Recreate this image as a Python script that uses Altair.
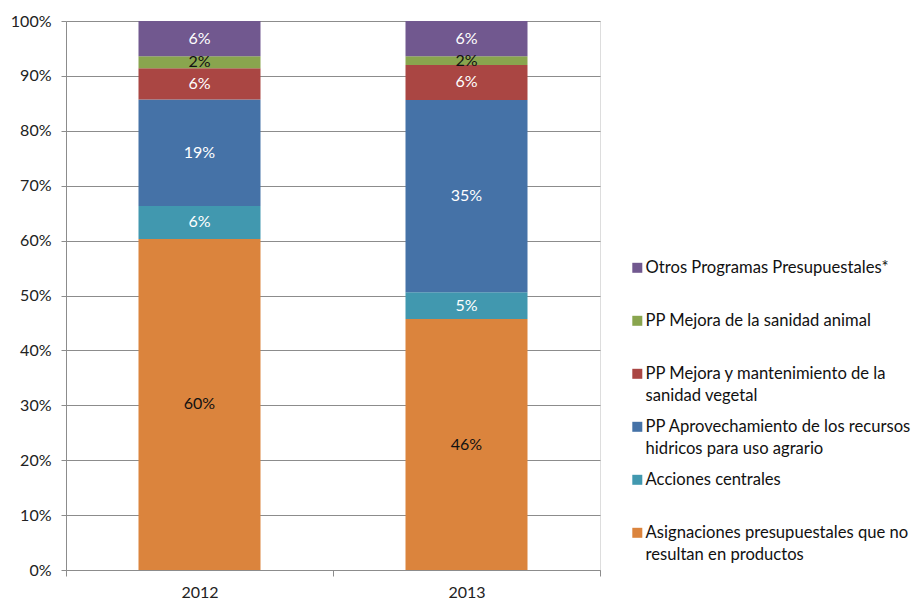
import altair as alt
import pandas as pd

years = ["2012", "2013"]
categories = [
    "Asignaciones presupuestales que no resultan en productos",
    "Acciones centrales",
    "PP Aprovechamiento de los recursos hidricos para uso agrario",
    "PP Mejora y mantenimiento de la sanidad vegetal",
    "PP Mejora de la sanidad animal",
    "Otros Programas Presupuestales*",
]
legend_lines = [
    ["Asignaciones presupuestales que no", "resultan en productos"],
    ["Acciones centrales"],
    ["PP Aprovechamiento de los recursos", "hidricos para uso agrario"],
    ["PP Mejora y mantenimiento de la", "sanidad vegetal"],
    ["PP Mejora de la sanidad animal"],
    ["Otros Programas Presupuestales*"],
]
values_2012 = [60.3, 6.0, 19.4, 5.7, 2.2, 6.4]
values_2013 = [45.7, 4.9, 35.0, 6.4, 1.6, 6.4]
colors = ["#DB843D", "#4198AF", "#4572A7", "#AA4643", "#89A54E", "#71588F"]
label_colors = ["#111111", "white", "white", "white", "#111111", "white"]

rows = []
for year, vals in zip(years, [values_2012, values_2013]):
    for i, (cat, v) in enumerate(zip(categories, vals)):
        rows.append({"year": year, "category": cat, "value": v / 100.0,
                     "idx": i, "tcolor": label_colors[i]})
df = pd.DataFrame(rows)

# legend label expression with line breaks
expr = "datum.label"
for cat, lines in zip(categories, legend_lines):
    if len(lines) > 1:
        arr = "[" + ", ".join("'" + l + "'" for l in lines) + "]"
        expr = f"datum.label == '{cat}' ? {arr} : ({expr})"

FONT = "Lato"
GRID = "#8C8C8C"
TXT = "#222222"

base = alt.Chart(df).transform_stack(
    stack="value", groupby=["year"], as_=["y0", "y1"],
    sort=[alt.SortField("idx", order="ascending")],
).transform_calculate(mid="(datum.y0 + datum.y1) / 2")

x_enc = alt.X(
    "year:N",
    scale=alt.Scale(paddingInner=0, paddingOuter=0),
    axis=alt.Axis(title=None, labelAngle=0, tickBand="extent", grid=False,
                  domainColor=GRID, tickColor=GRID, tickSize=6,
                  labelFont=FONT, labelFontSize=16, labelColor=TXT,
                  labelPadding=8),
)

bars = base.mark_bar(width=122).encode(
    x=x_enc,
    y=alt.Y("y0:Q", scale=alt.Scale(domain=[0, 1], nice=False),
            axis=alt.Axis(title=None, format=".0%",
                          values=[i / 10 for i in range(11)],
                          gridColor=GRID, domainColor=GRID, tickColor=GRID,
                          tickSize=5, labelFont=FONT, labelFontSize=16,
                          labelColor=TXT, labelPadding=10)),
    y2="y1:Q",
    color=alt.Color(
        "category:N",
        scale=alt.Scale(domain=categories[::-1], range=colors[::-1]),
        legend=alt.Legend(
            title=None, orient="none", legendX=563, legendY=231,
            symbolType="M-1,0.5L1,0.5L1,2.5L-1,2.5Z", symbolSize=100,
            symbolStrokeWidth=0,
            labelFont=FONT, labelFontSize=16.6, labelColor="#111111",
            labelBaseline="top", labelExpr=expr, labelLimit=400,
            gridAlign="all", rowPadding=6, labelOffset=0,
        ),
    ),
)

text = base.mark_text(font=FONT, fontSize=16).encode(
    x=x_enc,
    y=alt.Y("mid:Q"),
    text=alt.Text("value:Q", format=".0%"),
    color=alt.Color("tcolor:N", scale=None),
)

chart = alt.layer(bars, text).properties(
    width=534, height=549,
    autosize=alt.AutoSizeParams(type="none"),
    padding={"left": 58, "top": 13, "right": 312, "bottom": 30},
).configure_view(stroke=None).configure(
    style={"guide-label": {"lineHeight": 22}}
)

chart.save("out.html", embed_options={"renderer": "svg", "actions": False})
